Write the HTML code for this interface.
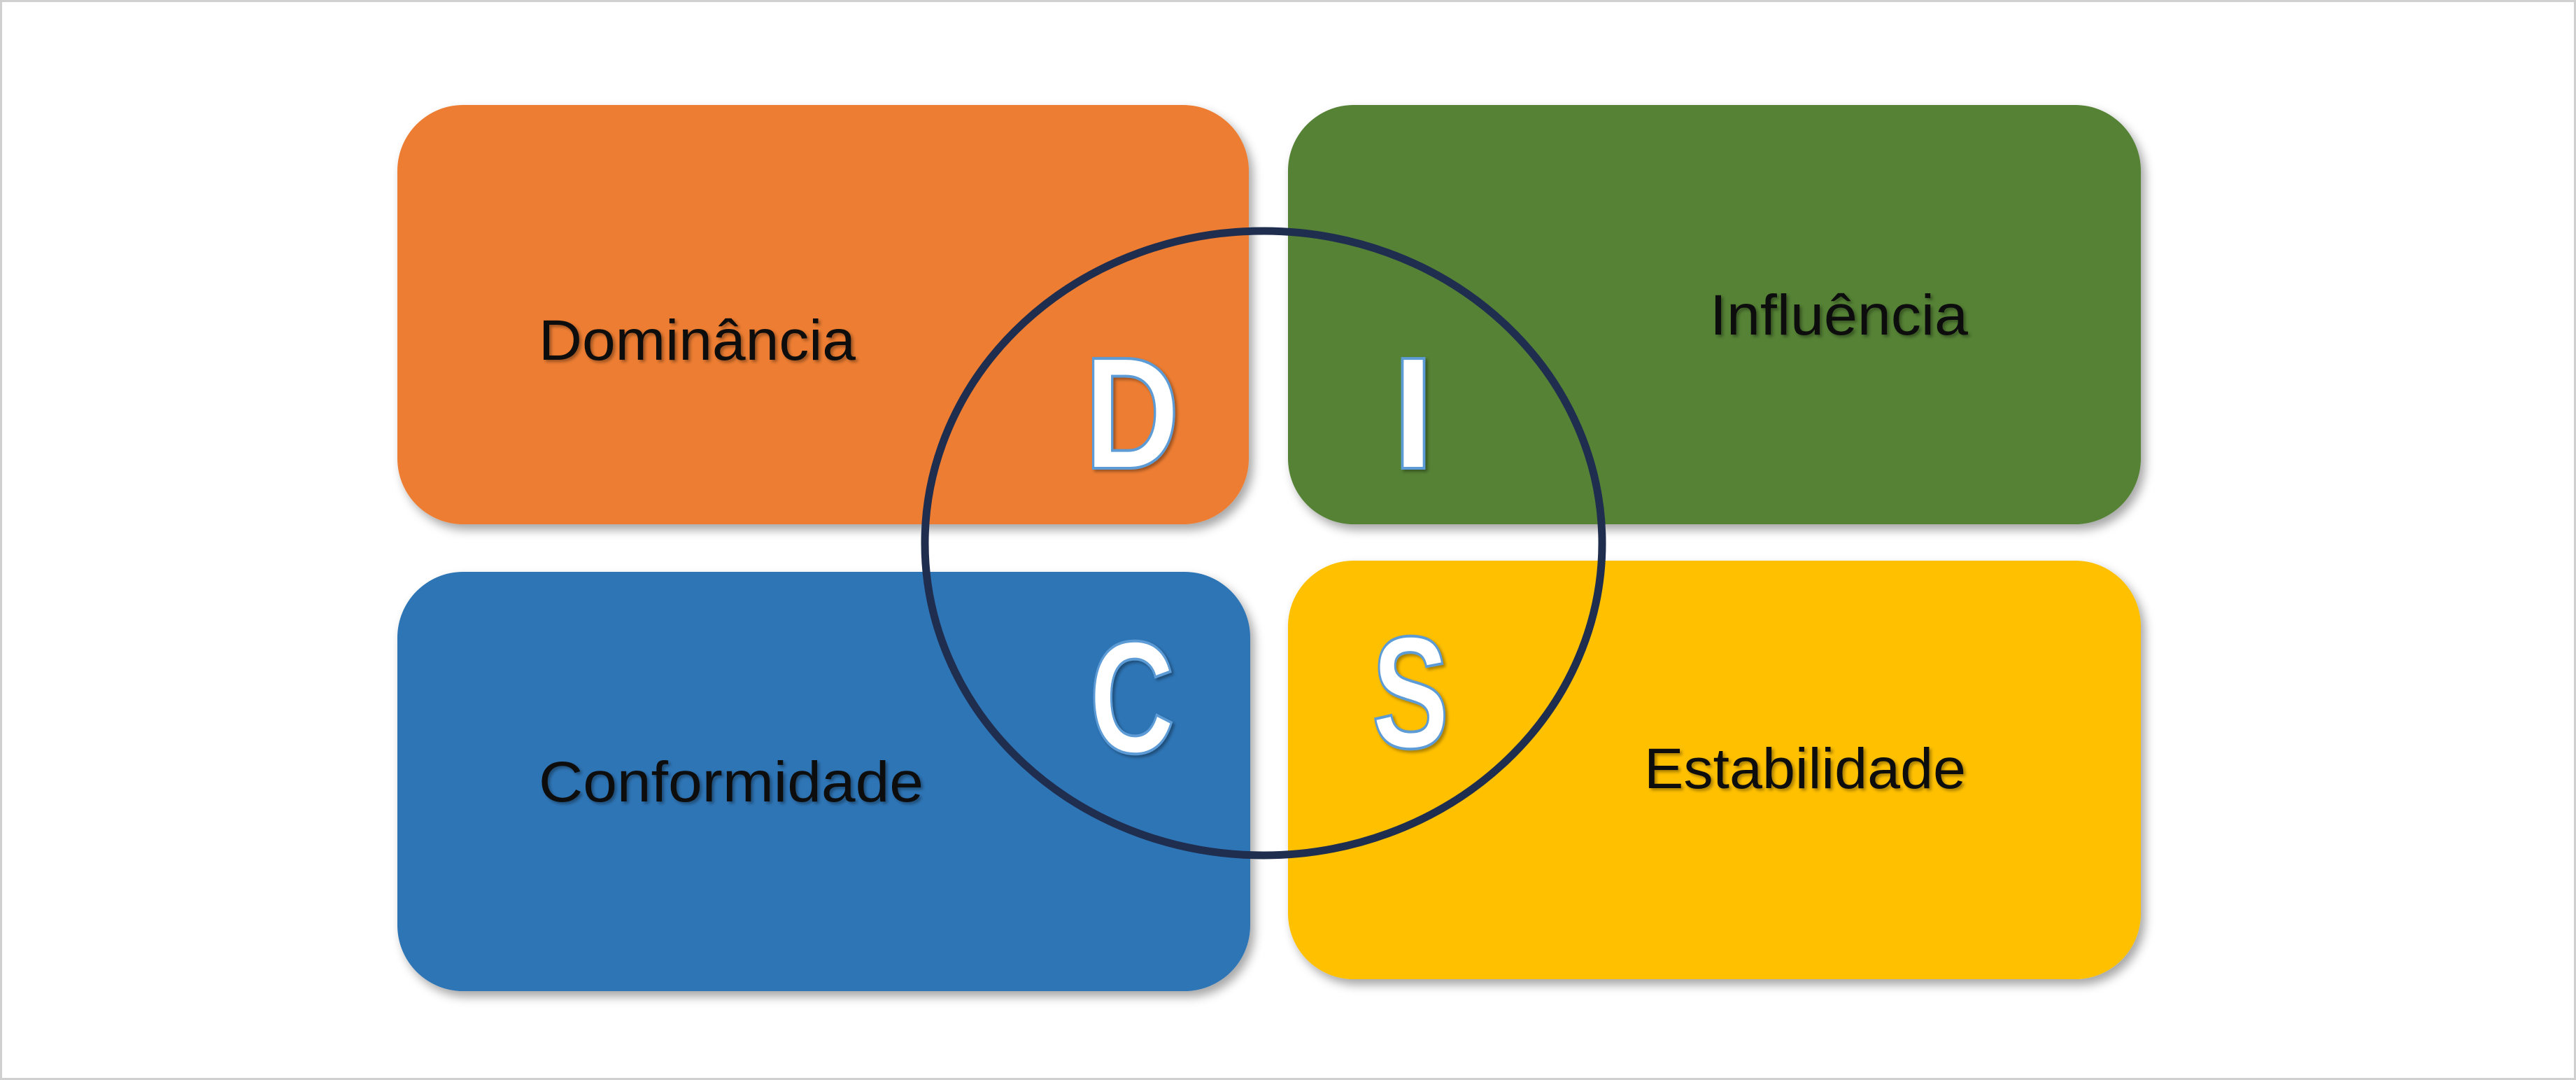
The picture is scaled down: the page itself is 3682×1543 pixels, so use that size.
<!DOCTYPE html>
<html><head><meta charset="utf-8"><style>
html,body{margin:0;padding:0;background:#fff;}
svg{display:block;}
</style></head><body>
<svg width="3682" height="1543" viewBox="0 0 3682 1543" xmlns="http://www.w3.org/2000/svg">
<defs>
<filter id="sh" x="-10%" y="-10%" width="120%" height="130%">
<feDropShadow dx="6" dy="8" stdDeviation="7" flood-color="#000" flood-opacity="0.35"/>
</filter>
<filter id="ts" x="-10%" y="-20%" width="120%" height="150%">
<feDropShadow dx="3" dy="3" stdDeviation="2" flood-color="#000" flood-opacity="0.35"/>
</filter>
</defs>
<rect x="1.5" y="1.5" width="3679" height="1540" fill="#fff" stroke="#d0d0d0" stroke-width="3"/>
<rect x="568" y="150" width="1217" height="599" rx="94" fill="#ED7D31" filter="url(#sh)"/>
<rect x="1841" y="150" width="1219" height="599" rx="94" fill="#548235" filter="url(#sh)"/>
<rect x="568" y="817" width="1219" height="599" rx="94" fill="#2E75B6" filter="url(#sh)"/>
<rect x="1841" y="801" width="1219" height="598" rx="94" fill="#FFC000" filter="url(#sh)"/>
<ellipse cx="1806" cy="776" rx="484" ry="446" fill="none" stroke="#1F2D4F" stroke-width="11"/>
<g font-family="Liberation Sans, sans-serif" font-size="82" fill="#111" filter="url(#ts)">
<text x="770" y="514" textLength="453" lengthAdjust="spacingAndGlyphs">Dominância</text>
<text x="2444" y="478" textLength="369" lengthAdjust="spacingAndGlyphs">Influência</text>
<text x="770" y="1145" textLength="550" lengthAdjust="spacingAndGlyphs">Conformidade</text>
<text x="2350" y="1126" textLength="460" lengthAdjust="spacingAndGlyphs">Estabilidade</text>
</g>
<g font-family="Liberation Sans, sans-serif" font-weight="bold" font-size="228" fill="#fff" stroke="#5B9BD5" stroke-width="4" filter="url(#ts)">
<text x="1550" y="669" textLength="136" lengthAdjust="spacingAndGlyphs">D</text>
<text x="1990" y="669" textLength="60" lengthAdjust="spacingAndGlyphs">I</text>
<text x="1557" y="1075" textLength="122" lengthAdjust="spacingAndGlyphs">C</text>
<text x="1961" y="1068" textLength="110" lengthAdjust="spacingAndGlyphs">S</text>
</g>
</svg>
</body></html>
